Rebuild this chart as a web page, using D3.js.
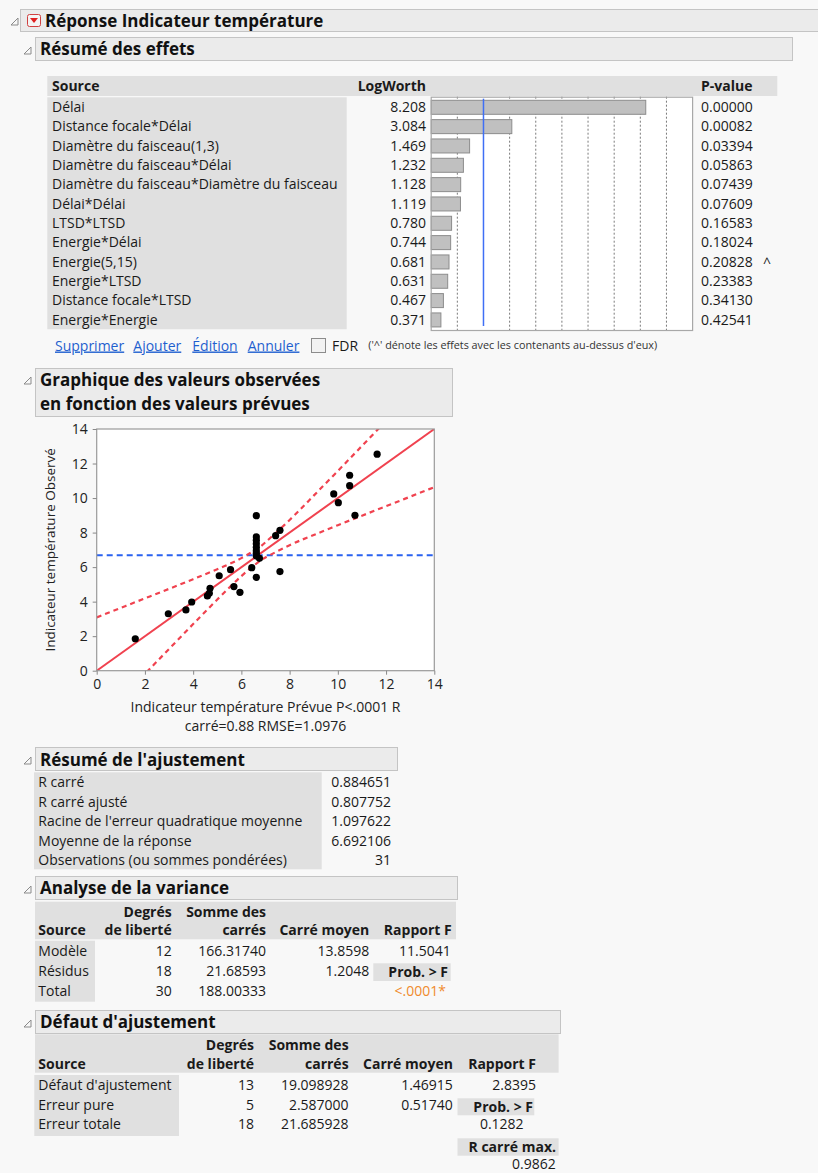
<!DOCTYPE html>
<html><head><meta charset="utf-8">
<script src="https://cdn.jsdelivr.net/npm/d3@7"></script>
<style>
html,body{margin:0;padding:0;background:#f8f8f8;}
svg{display:block;font-family:"Open Sans",sans-serif;}
</style></head><body>
<svg id="c" width="818" height="1173"></svg>
<script>
// ---------------- DATA ----------------
const effectSources = ["Délai","Distance focale*Délai","Diamètre du faisceau(1,3)","Diamètre du faisceau*Délai",
  "Diamètre du faisceau*Diamètre du faisceau","Délai*Délai","LTSD*LTSD","Energie*Délai","Energie(5,15)",
  "Energie*LTSD","Distance focale*LTSD","Energie*Energie"];
const logWorth = [8.208,3.084,1.469,1.232,1.128,1.119,0.780,0.744,0.681,0.631,0.467,0.371];
const pValues = ["0.00000","0.00082","0.03394","0.05863","0.07439","0.07609","0.16583","0.18024","0.20828","0.23383","0.34130","0.42541"];
const pFlags = ["","","","","","","","","^","","",""];
const logWorthTicks = [1,2,3,4,5,6,7,8,9];
const logWorthRef = 2;
const logWorthMax = 10;

const predicted = [1.60,2.97,3.70,3.94,4.59,4.67,4.70,5.08,5.55,5.69,5.94,6.43,6.62,6.75,7.60,6.62,7.42,7.60,9.83,10.02,10.49,10.49,10.71,11.63,6.62,6.62,6.62,6.62,6.62,6.62,6.62];
const observed  = [1.85,3.30,3.52,3.98,4.33,4.48,4.77,5.50,5.85,4.87,4.54,5.97,5.41,6.51,5.74,8.98,7.82,8.13,10.24,9.73,11.32,10.72,9.00,12.54,7.75,7.55,7.35,7.15,6.95,6.80,6.65];
const axisTicks = [0,2,4,6,8,10,12,14];
const meanResponse = 6.692106;
const bandX     = [0,1,2,3,4,5,6,6.69,7,8,9,10,11,12,13,14];
const bandUpper = [3.09,3.64,4.19,4.74,5.30,5.88,6.52,7.10,7.44,8.73,10.14,11.57,13.02,14.47,15.92,17.37];
const bandLower = [-3.09,-1.64,-0.19,1.26,2.70,4.12,5.48,6.28,6.56,7.27,7.86,8.43,8.98,9.53,10.08,10.63];

const fitLabels = ["R carré","R carré ajusté"," Racine de l'erreur quadratique moyenne","Moyenne de la réponse","Observations (ou sommes pondérées)"];
const fitValues = ["0.884651","0.807752","1.097622","6.692106","31"];

const anovaSources = ["Modèle","Résidus","Total"];
const anovaDF = ["12","18","30"];
const anovaSS = ["166.31740","21.68593","188.00333"];
const anovaMS = ["13.8598","1.2048",""];
const anovaF = "11.5041";
const anovaProb = "<.0001*";

const lofSources = ["Défaut d'ajustement","Erreur pure","Erreur totale"];
const lofDF = ["13","5","18"];
const lofSS = ["19.098928","2.587000","21.685928"];
const lofMS = ["1.46915","0.51740",""];
const lofF = "2.8395";
const lofProb = "0.1282";
const lofMaxR2 = "0.9862";

// ---------------- HELPERS ----------------
const svg = d3.select("#c");
svg.append("rect").attr("width",818).attr("height",1173).attr("fill","#f8f8f8");
const TXT = "#1a1a1a", GRAY = "#e0e0e0", FS = 14;

function tri(x, y) { // disclosure triangle, bottom-right corner at (x,y)
  svg.append("path").attr("d",`M${x-7},${y} L${x},${y-7} L${x},${y} Z`)
    .attr("fill","none").attr("stroke","#8a8a8a").attr("stroke-width",1);
}
function header(x, y, w, h, lines, base, lineGap, tx) {
  svg.append("rect").attr("x",x+0.5).attr("y",y+0.5).attr("width",w).attr("height",h)
    .attr("fill","#ebebeb").attr("stroke","#c4c4c4");
  lines.forEach((t,i)=> svg.append("text").attr("x",tx||x+5).attr("y",base+i*lineGap)
    .attr("font-weight","bold").attr("font-size",17).attr("fill","#111").text(t));
}
function txt(x,y,t,o={}) {
  return svg.append("text").attr("x",x).attr("y",y).attr("font-size",o.fs||FS)
    .attr("font-weight",o.bold?"bold":"normal").attr("text-anchor",o.anchor||"start")
    .attr("fill",o.fill||TXT).text(t);
}
function box(x,y,w,h,fill){ svg.append("rect").attr("x",x).attr("y",y).attr("width",w).attr("height",h).attr("fill",fill||GRAY); }

// ---------------- TOP HEADERS ----------------
tri(18, 25);
header(20, 9, 810, 22, ["Réponse Indicateur température"], 26.5, 0, 45);
// red menu icon
svg.append("rect").attr("x",27.5).attr("y",14.5).attr("width",13).attr("height",12).attr("rx",2)
  .attr("fill","#f4f4f4").attr("stroke","#d04040");
svg.append("path").attr("d","M30,18 L38,18 L34,23 Z").attr("fill","#e02020");

tri(31, 54);
header(35, 37, 757, 23, ["Résumé des effets"], 54.5, 0, 40);

// ---------------- EFFECTS TABLE ----------------
const rowTop0 = 97.3, rowH = 19.33;
box(47.3, 76, 730, 20);
txt(52, 91, "Source", {bold:true});
txt(426, 91, "LogWorth", {bold:true, anchor:"end"});
txt(701, 91, "P-value", {bold:true});
box(47.3, rowTop0, 299.4, rowH*effectSources.length);

const lw = d3.scaleLinear().domain([0, logWorthMax]).range([430.7, 692.1]);
const boxTop = 96.7, boxBot = 330;
svg.append("rect").attr("x",lw(0)).attr("y",boxTop).attr("width",lw(logWorthMax)-lw(0)).attr("height",boxBot-boxTop)
  .attr("fill","#ffffff");
svg.selectAll(".grid").data(logWorthTicks.filter(d=>d!==logWorthRef)).enter().append("line")
  .attr("x1",d=>lw(d)+0.5).attr("x2",d=>lw(d)+0.5).attr("y1",boxTop).attr("y2",boxBot)
  .attr("stroke","#7a7a7a").attr("stroke-dasharray","2,2").attr("stroke-width",1);
svg.selectAll(".bar").data(logWorth).enter().append("rect")
  .attr("x",lw(0)+0.5).attr("y",(d,i)=>rowTop0+i*rowH+3).attr("height",14)
  .attr("width",d=>lw(d)-lw(0)).attr("fill","#c0c0c0").attr("stroke","#8c8c8c");
svg.append("line").attr("x1",lw(logWorthRef)+0.5).attr("x2",lw(logWorthRef)+0.5).attr("y1",boxTop+2).attr("y2",boxBot-4)
  .attr("stroke","#3f6ff5").attr("stroke-width",1.5);
svg.append("rect").attr("x",lw(0)+0.5).attr("y",boxTop+0.5).attr("width",lw(logWorthMax)-lw(0)).attr("height",boxBot-boxTop)
  .attr("fill","none").attr("stroke","#a8a8a8").attr("stroke-width",1.2);

effectSources.forEach((s,i)=>{
  const b = rowTop0 + i*rowH + 14.6;
  txt(52, b, s);
  txt(426, b, logWorth[i].toFixed(3), {anchor:"end"});
  txt(701, b, pValues[i]);
  if (pFlags[i]) txt(763, b+1, pFlags[i]);
});

// links row
const links = [["Supprimer",55],["Ajouter",133.3],["Édition",192.3],["Annuler",247.7]];
links.forEach(([t,x])=> txt(x, 350.5, t, {fill:"#1f5fcf", fs:14}).style("text-decoration","underline"));
svg.append("rect").attr("x",311.5).attr("y",338.5).attr("width",14).attr("height",14).attr("fill","#f2f2f2").attr("stroke","#8c8c8c");
txt(332, 350.5, "FDR", {fs:14});
txt(368.3, 349, "('^' dénote les effets avec les contenants au-dessus d'eux)", {fs:10.8, fill:"#333"});

// ---------------- ACTUAL BY PREDICTED ----------------
tri(31, 384);
header(35, 368, 417, 48, ["Graphique des valeurs observées","en fonction des valeurs prévues"], 386, 23.5, 40);

const px0 = 96.7, px1 = 434.3, py0 = 670.7, py1 = 429;
const x = d3.scaleLinear().domain([0,14]).range([px0, px1]);
const y = d3.scaleLinear().domain([0,14]).range([py0, py1]);
svg.append("rect").attr("x",px0).attr("y",py1).attr("width",px1-px0).attr("height",py0-py1).attr("fill","#fff");
svg.append("clipPath").attr("id","clip").append("rect").attr("x",px0).attr("y",py1).attr("width",px1-px0).attr("height",py0-py1);
const g = svg.append("g").attr("clip-path","url(#clip)");

g.append("line").attr("x1",x(0)).attr("x2",x(14)).attr("y1",y(meanResponse)).attr("y2",y(meanResponse))
  .attr("stroke","#2a62f0").attr("stroke-width",2).attr("stroke-dasharray","6,4");
const RED = "#f0424f";
const band = d3.line().x((d,i)=>x(bandX[i])).y(d=>y(d)).curve(d3.curveNatural);
g.append("path").attr("d",band(bandUpper)).attr("fill","none").attr("stroke",RED).attr("stroke-width",2.2).attr("stroke-dasharray","5,4");
g.append("path").attr("d",band(bandLower)).attr("fill","none").attr("stroke",RED).attr("stroke-width",2.2).attr("stroke-dasharray","5,4");
g.append("line").attr("x1",x(0)).attr("y1",y(0)).attr("x2",x(14)).attr("y2",y(14)).attr("stroke",RED).attr("stroke-width",2);
g.selectAll(".pt").data(predicted).enter().append("circle")
  .attr("cx",d=>x(d)).attr("cy",(d,i)=>y(observed[i])).attr("r",3.6).attr("fill","#000");

svg.append("rect").attr("x",px0).attr("y",py1).attr("width",px1-px0).attr("height",py0-py1)
  .attr("fill","none").attr("stroke","#9a9a9a").attr("stroke-width",1.2);

const ax = svg.append("g").attr("transform",`translate(0,${py0})`).call(d3.axisBottom(x).tickValues(axisTicks).tickSize(4).tickPadding(4));
const ay = svg.append("g").attr("transform",`translate(${px0},0)`).call(d3.axisLeft(y).tickValues(axisTicks).tickSize(4).tickPadding(5));
[ax,ay].forEach(a=>{
  a.select(".domain").remove();
  a.selectAll("line").attr("stroke","#888");
  a.selectAll("text").attr("font-size",14).attr("fill","#222").attr("font-family","'Open Sans',sans-serif");
});
txt(265.5, 711.5, "Indicateur température Prévue P<.0001 R", {anchor:"middle", fs:14, fill:"#222"});
txt(265.5, 730.5, "carré=0.88 RMSE=1.0976", {anchor:"middle", fs:14, fill:"#222"});
svg.append("text").attr("transform",`translate(55,${(py0+py1)/2}) rotate(-90)`).attr("text-anchor","middle")
  .attr("font-size",13.5).attr("fill","#222").text("Indicateur température Observé");

// ---------------- SUMMARY OF FIT ----------------
tri(31, 764);
header(35, 747, 362, 23, ["Résumé de l'ajustement"], 765.5, 0, 40);
box(34, 772.3, 287.7, 97);
fitLabels.forEach((l,i)=>{
  const b = 787 + i*19.6;
  txt(38.3, b, l);
  txt(391, b, fitValues[i], {anchor:"end"});
});

// ---------------- ANOVA ----------------
tri(31, 893);
header(35, 876, 422, 23, ["Analyse de la variance"], 894, 0, 40);
box(35, 901.7, 421, 37.6);
box(35, 940.7, 60, 61);
const aCols = [171.7, 266, 369.3, 451.7];
txt(38.3, 935, "Source", {bold:true});
txt(aCols[0], 916.7, "Degrés", {bold:true, anchor:"end"});
txt(aCols[0], 935, "de liberté", {bold:true, anchor:"end"});
txt(aCols[1], 916.7, "Somme des", {bold:true, anchor:"end"});
txt(aCols[1], 935, "carrés", {bold:true, anchor:"end"});
txt(aCols[2], 935, "Carré moyen", {bold:true, anchor:"end"});
txt(aCols[3], 935, "Rapport F", {bold:true, anchor:"end"});
anovaSources.forEach((s,i)=>{
  const b = 956 + i*20;
  txt(38.3, b, s);
  txt(aCols[0], b, anovaDF[i], {anchor:"end"});
  txt(aCols[1], b, anovaSS[i], {anchor:"end"});
  if (anovaMS[i]) txt(aCols[2], b, anovaMS[i], {anchor:"end"});
});
txt(aCols[3]-1, 956, anovaF, {anchor:"end"});
box(373.3, 963.3, 77.4, 17.7);
txt(448, 976.5, "Prob. > F", {bold:true, anchor:"end"});
txt(446, 996, anovaProb, {anchor:"end", fill:"#f08a2c"});

// ---------------- LACK OF FIT ----------------
tri(31, 1027);
header(35, 1010, 525, 23, ["Défaut d'ajustement"], 1028, 0, 40);
box(35, 1034.3, 523.6, 38.4);
box(34.3, 1075, 144.7, 61);
const lCols = [254, 348.6, 452.9, 536];
txt(38.3, 1069.3, "Source", {bold:true});
txt(lCols[0], 1050, "Degrés", {bold:true, anchor:"end"});
txt(lCols[0], 1069.3, "de liberté", {bold:true, anchor:"end"});
txt(lCols[1], 1050, "Somme des", {bold:true, anchor:"end"});
txt(lCols[1], 1069.3, "carrés", {bold:true, anchor:"end"});
txt(lCols[2], 1069.3, "Carré moyen", {bold:true, anchor:"end"});
txt(lCols[3], 1069.3, "Rapport F", {bold:true, anchor:"end"});
lofSources.forEach((s,i)=>{
  const b = 1090 + i*19.7;
  txt(38.3, b, s);
  txt(lCols[0], b, lofDF[i], {anchor:"end"});
  txt(lCols[1], b, lofSS[i], {anchor:"end"});
  if (lofMS[i]) txt(lCols[2], b, lofMS[i], {anchor:"end"});
});
txt(lCols[3], 1090, lofF, {anchor:"end"});
box(457.5, 1098.3, 76.8, 17);
txt(533, 1111.8, "Prob. > F", {bold:true, anchor:"end"});
txt(523.6, 1129.4, lofProb, {anchor:"end"});
box(457.5, 1138.3, 101.1, 17.4);
txt(556, 1151.8, "R carré max.", {bold:true, anchor:"end"});
txt(555.7, 1168.5, lofMaxR2, {anchor:"end"});
</script>
</body></html>
